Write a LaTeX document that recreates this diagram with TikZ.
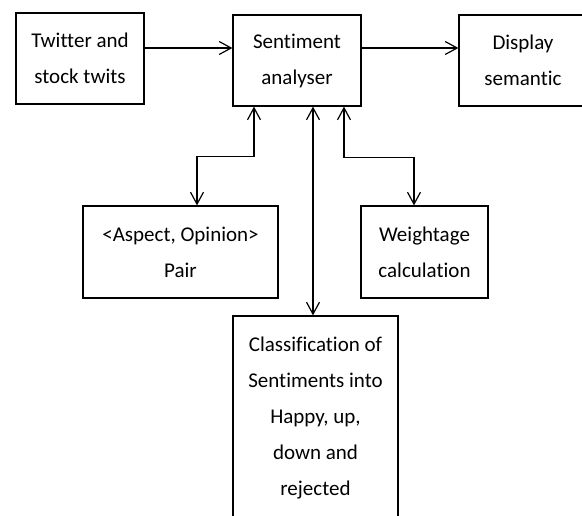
\documentclass[tikz,border=0pt]{standalone}
\usepackage{fontspec}
\setmainfont{Carlito}[Ligatures={NoCommon}]
\usetikzlibrary{arrows.meta,positioning}

\begin{document}
\begin{tikzpicture}[x=1pt,y=-1pt,>={Straight Barb[length=12pt,width=13pt]},
                    line width=1.2pt]
  \tikzstyle{every node}=[font=\fontsize{21}{36}\selectfont]
  \tikzstyle{block}=[draw=black,align=center,inner sep=0pt]

  \useasboundingbox (0,0) rectangle (582,516);
  \clip (0,0) rectangle (582,516);

  \node[block,minimum width=128pt,minimum height=91pt] (T) at (80,58.5) {Twitter and\\stock twits};
  \node[block,minimum width=128pt,minimum height=91pt] (S) at (297,60.5) {Sentiment\\analyser};
  \node[block,minimum width=128pt,minimum height=91pt] (D) at (523,60.5) {Display\\semantic};
  \node[block,minimum width=195pt,minimum height=92pt] (A) at (180.5,252) {<Aspect, Opinion>\\Pair};
  \node[block,minimum width=127pt,minimum height=92pt] (W) at (424.5,252) {Weightage\\calculation};
  \node[block,minimum width=165pt,minimum height=204pt] (C) at (315.5,418)
       {Classification of\\Sentiments into\\Happy, up,\\down and\\rejected};

  \coordinate (top) at (0,48);

  \draw[->] (T.east |- top) -- (S.west |- top);
  \draw[->] (S.east |- top) -- (D.west |- top);
  \draw[<->] ([xshift=-43pt]S.south) -- ++(0,50) -| ([xshift=16.5pt]A.north);
  \draw[<->] ([xshift=16pt]S.south) -- ([xshift=-2.5pt]C.north);
  \draw[<->] ([xshift=47pt]S.south) -- ++(0,51) -| ([xshift=-10.5pt]W.north);
\end{tikzpicture}
\end{document}
